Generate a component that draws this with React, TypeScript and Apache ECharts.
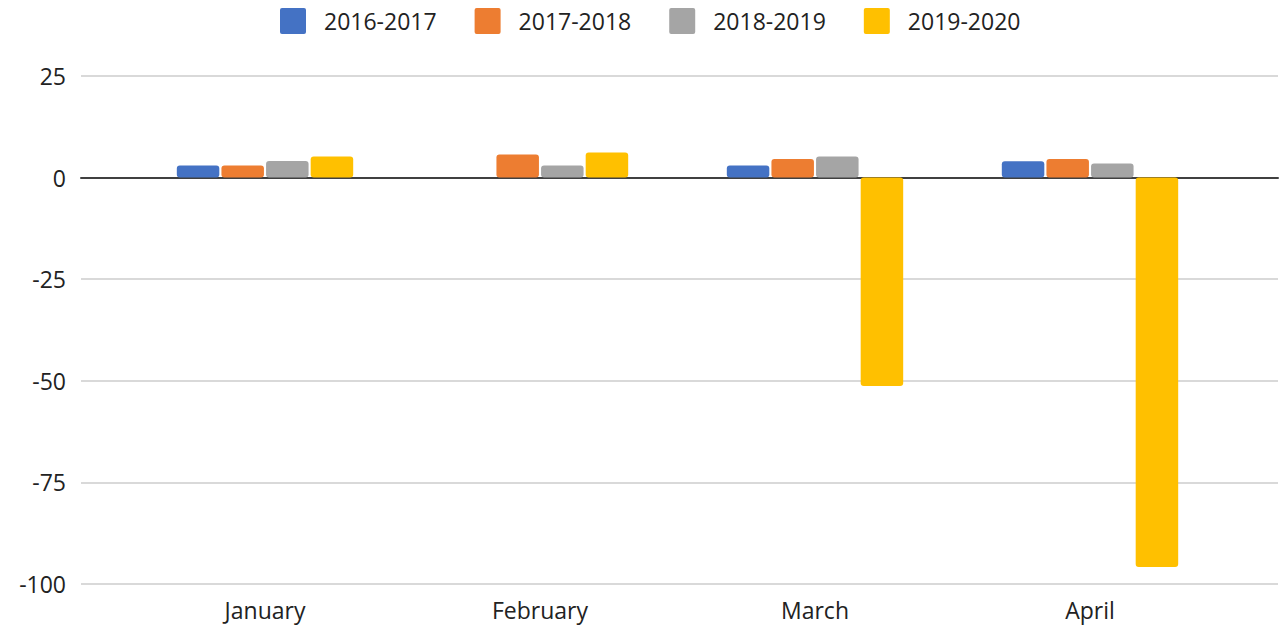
import React, { useEffect, useRef } from "react";
import * as echarts from "echarts";

const categories = ["January", "February", "March", "April"];
const seriesNames = ["2016-2017", "2017-2018", "2018-2019", "2019-2020"];
const s2016 = [3.0, 0, 3.0, 4.0];
const s2017 = [3.0, 5.7, 4.6, 4.6];
const s2018 = [4.1, 3.0, 5.2, 3.5];
const s2019 = [5.2, 6.2, -51.3, -95.8];
const colors = ["#4472C4", "#ED7D31", "#A5A5A5", "#FFC000"];
const yMin = -100;
const yMax = 25;
const yStep = 25;

const squareIcon = "path://M2,0H24Q26,0 26,2V24Q26,26 24,26H2Q0,26 0,24V2Q0,0 2,0Z";

export default function App() {
  const ref = useRef<HTMLDivElement>(null);
  useEffect(() => {
    if (!ref.current) return;
    const chart = echarts.init(ref.current, null, { renderer: "svg" });
    const font = "Open Sans";
    const values = [s2016, s2017, s2018, s2019];
    chart.setOption({
      animation: false,
      textStyle: { fontFamily: font },
      legend: {
        top: 3,
        left: 275,
        itemWidth: 26,
        itemHeight: 26,
        itemGap: 38,
        icon: squareIcon,
        data: seriesNames,
        textStyle: { fontSize: 23, color: "#222", fontFamily: font, padding: [0, 0, 0, 13] },
      },
      grid: [
        { left: 81, right: 3, top: 76, bottom: 43 },
        { left: 127.5, width: 1100, top: 76, bottom: 43 },
      ],
      xAxis: [
        {
          gridIndex: 0,
          type: "value",
          min: 0,
          max: 1,
          axisLabel: { show: false },
          axisTick: { show: false },
          splitLine: { show: false },
          axisLine: { show: true, onZero: true, lineStyle: { color: "#404040", width: 2 } },
        },
        {
          gridIndex: 1,
          type: "category",
          data: categories,
          position: "bottom",
          axisLine: { show: false, onZero: false },
          axisTick: { show: false },
          axisLabel: { fontSize: 23, color: "#222", fontFamily: font, margin: 14 },
        },
      ],
      yAxis: [
        {
          gridIndex: 0,
          type: "value",
          min: yMin,
          max: yMax,
          interval: yStep,
          axisLine: { show: false },
          axisTick: { show: false },
          axisLabel: { fontSize: 23, color: "#222", fontFamily: font, margin: 15 },
          splitLine: { show: true, lineStyle: { color: "#D9D9D9", width: 2 } },
        },
        {
          gridIndex: 1,
          type: "value",
          min: yMin,
          max: yMax,
          interval: yStep,
          show: false,
          splitLine: { show: false },
        },
      ],
      series: seriesNames.map((name, i) => ({
        name,
        type: "bar",
        xAxisIndex: 1,
        yAxisIndex: 1,
        data: values[i],
        barWidth: 42.5,
        barGap: "5%",
        itemStyle: { color: colors[i], borderRadius: 3 },
        z: 3,
      })),
    });
    return () => chart.dispose();
  }, []);
  return (
    <div
      ref={ref}
      style={{ position: "absolute", left: 0, top: 0, width: 1281, height: 627, background: "#fff" }}
    />
  );
}
